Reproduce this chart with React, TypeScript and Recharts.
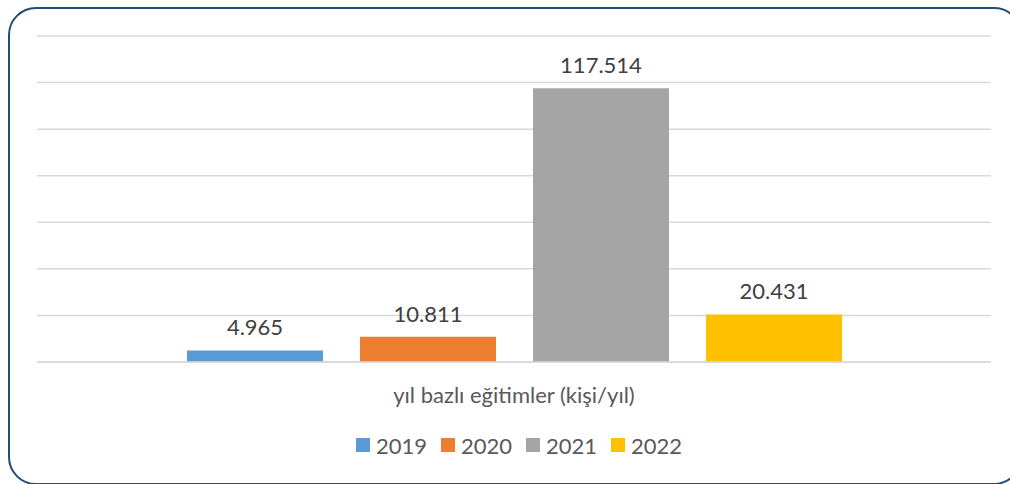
import React from "react";
import {
  BarChart,
  Bar,
  XAxis,
  YAxis,
  CartesianGrid,
  Legend,
  LabelList,
} from "recharts";

const category = "yıl bazlı eğitimler (kişi/yıl)";
const years = ["2019", "2020", "2021", "2022"];
const values = [4965, 10811, 117514, 20431];
const colors = ["#5B9BD5", "#ED7D31", "#A5A5A5", "#FFC000"];
const yTicks = [0, 20000, 40000, 60000, 80000, 100000, 120000, 140000];

const row: Record<string, string | number> = { name: category };
years.forEach((y, i) => {
  row["y" + y] = values[i];
});
const data = [row];

const FONT = "Lato, 'Open Sans', sans-serif";

// turkish style thousands separator
const fmt = (v: unknown) =>
  String(v).replace(/\B(?=(\d{3})+(?!\d))/g, ".");

function CategoryTick(props: any) {
  const { x, y, payload } = props;
  return (
    <text
      x={x}
      y={y + 41}
      textAnchor="middle"
      fill="#595959"
      fontSize={22}
      fontFamily={FONT}
    >
      {payload.value}
    </text>
  );
}

function LegendRow() {
  return (
    <div
      style={{
        display: "flex",
        justifyContent: "center",
        alignItems: "center",
        height: 24,
        fontFamily: FONT,
        fontSize: 22,
        color: "#595959",
        paddingLeft: 10,
      }}
    >
      {years.map((y, i) => (
        <div
          key={y}
          style={{ display: "flex", alignItems: "center", margin: "0 7px" }}
        >
          <span
            style={{
              width: 14,
              height: 14,
              background: colors[i],
              display: "inline-block",
              marginRight: 6,
            }}
          />
          <span>{y}</span>
        </div>
      ))}
    </div>
  );
}

export default function App() {
  return (
    <div
      style={{
        position: "absolute",
        left: 0,
        top: 0,
        width: 1010,
        height: 484,
        overflow: "hidden",
        background: "#fff",
      }}
    >
      <div
        style={{
          position: "absolute",
          left: 8,
          top: 7,
          width: 1010,
          height: 474,
          border: "2px solid #1F4E79",
          borderRadius: 28,
        }}
      />
      <BarChart
        width={1010}
        height={484}
        data={data}
        margin={{ top: 36, right: 19, bottom: 27, left: 37 }}
        barSize={136}
        barGap={37}
        style={{ position: "absolute", left: 0, top: 0 }}
      >
        <CartesianGrid
          vertical={false}
          stroke="#D9D9D9"
          strokeWidth={1.5}
        />
        <XAxis
          dataKey="name"
          axisLine={{ stroke: "#D9D9D9", strokeWidth: 1.5 }}
          tickLine={false}
          tickSize={0}
          tickMargin={0}
          height={71}
          tick={<CategoryTick />}
        />
        <YAxis hide domain={[0, 140000]} ticks={yTicks} width={0} />
        <Legend
          verticalAlign="bottom"
          height={24}
          content={() => <LegendRow />}
        />
        {years.map((y, i) => (
          <Bar
            key={y}
            dataKey={"y" + y}
            name={y}
            fill={colors[i]}
            isAnimationActive={false}
          >
            <LabelList
              dataKey={"y" + y}
              position="top"
              offset={15}
              formatter={fmt}
              fill="#404040"
              fontSize={22}
              fontFamily={FONT}
            />
          </Bar>
        ))}
      </BarChart>
    </div>
  );
}
